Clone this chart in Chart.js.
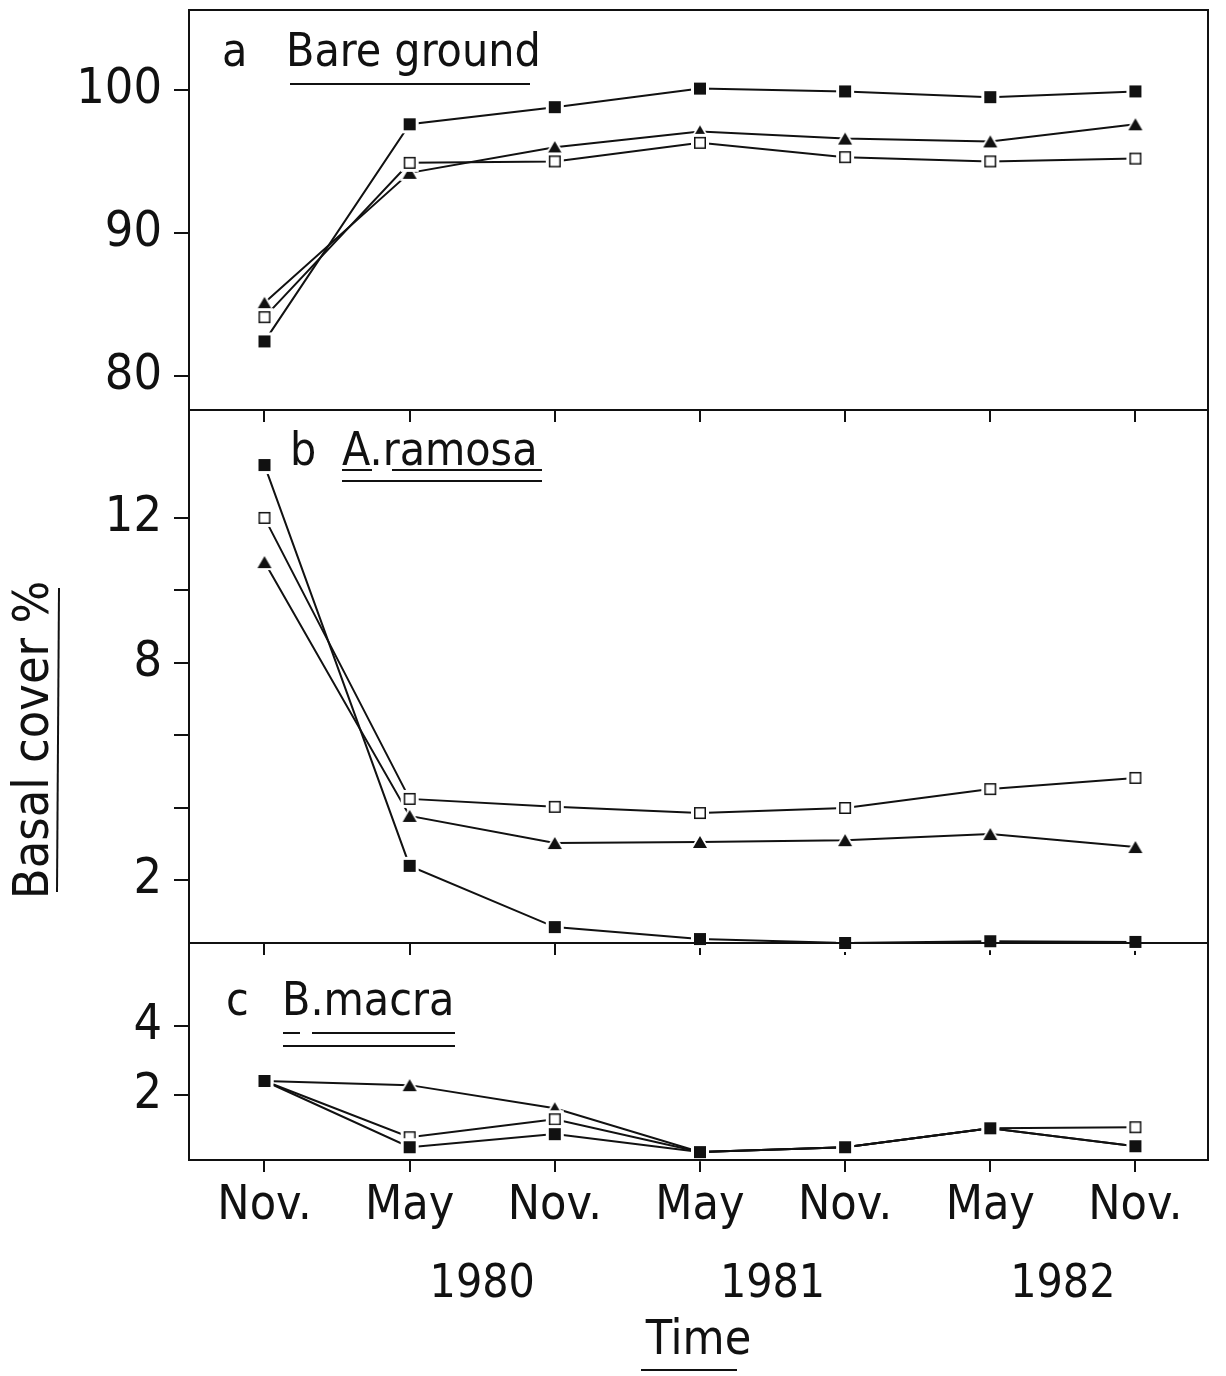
<!DOCTYPE html>
<html>
<head>
<meta charset="utf-8">
<script src="https://cdn.jsdelivr.net/npm/chart.js@4.4.1/dist/chart.umd.min.js"></script>
<style>
  body { margin: 0; background: #fff; width: 1226px; height: 1376px; position: relative; overflow: hidden; }
  .panel { position: absolute; left: 0; width: 1226px; }
</style>
</head>
<body>
<div class="panel" style="top:0;height:430px"><canvas id="chartA"></canvas></div>
<div class="panel" style="top:400px;height:563px"><canvas id="chartB"></canvas></div>
<div class="panel" style="top:933px;height:443px"><canvas id="chartC"></canvas></div>
<script>
// sampling dates (x axis)
const periods = ['Nov.', 'May', 'Nov.', 'May', 'Nov.', 'May', 'Nov.']
const years = ['1980', '1981', '1982']
const yearPositions = [1.5, 3.5, 5.5]

// a  Bare ground
const bareFilled = [82.4, 97.6, 98.8, 100.1, 99.9, 99.5, 99.9]
const bareOpen = [84.1, 94.9, 95.0, 96.3, 95.3, 95.0, 95.2]
const bareTriangle = [85.1, 94.2, 96.0, 97.1, 96.6, 96.4, 97.6]
const bareTicks = [80, 90, 100]

// b  A. ramosa
const ramosaFilled = [13.46, 2.39, 0.70, 0.37, 0.26, 0.31, 0.29]
const ramosaOpen = [12.0, 4.24, 4.02, 3.85, 3.99, 4.51, 4.82]
const ramosaTriangle = [10.78, 3.77, 3.02, 3.05, 3.1, 3.27, 2.91]
const ramosaTicks = [2, 4, 6, 8, 10, 12]
const ramosaLabelled = [2, 8, 12]

// c  B. macra
const macraFilled = [2.41, 0.49, 0.87, 0.35, 0.49, 1.04, 0.52]
const macraOpen = [2.41, 0.78, 1.30, 0.35, 0.49, 1.04, 1.07]
const macraTriangle = [2.41, 2.29, 1.62, 0.35, 0.49, 1.04, 0.52]
const macraTicks = [2, 4]

const FONT = '"Liberation Sans Narrow", "DejaVu Sans Condensed", "DejaVu Sans", sans-serif'
const INK = '#111'
const X_MIN = -0.52
const X_MAX = 6.5
const AXIS_W = 189

// marker images with a white halo so the lines stop short of the symbols
function markerImage(kind) {
   const s = 22
   const c = document.createElement('canvas')
   c.width = s
   c.height = s
   const g = c.getContext('2d')
   g.fillStyle = '#fff'
   if (kind === 'triangle') {
      g.beginPath()
      g.moveTo(11, 1)
      g.lineTo(21, 19)
      g.lineTo(1, 19)
      g.closePath()
      g.fill()
      g.fillStyle = INK
      g.beginPath()
      g.moveTo(11, 5)
      g.lineTo(18, 17)
      g.lineTo(4, 17)
      g.closePath()
      g.fill()
   } else {
      g.fillRect(2, 2, 18, 18)
      if (kind === 'filled') {
         g.fillStyle = INK
         g.fillRect(5, 5, 12, 12)
      } else {
         g.strokeStyle = INK
         g.lineWidth = 1.5
         g.strokeRect(5.75, 5.75, 10.5, 10.5)
      }
   }
   return c
}
const markers = {
   filled: markerImage('filled'),
   open: markerImage('open'),
   triangle: markerImage('triangle')
}

function series(values, kind) {
   return {
      data: values.map((v, i) => ({ x: i, y: v })),
      borderColor: INK,
      borderWidth: 2,
      pointStyle: markers[kind],
      pointRadius: 8,
      tension: 0,
      clip: false
   }
}

const frame = {
   id: 'frame',
   afterDatasetsDraw(chart) {
      const { ctx, chartArea: a } = chart
      ctx.save()
      ctx.strokeStyle = INK
      ctx.lineWidth = 2
      ctx.strokeRect(a.left, a.top, a.right - a.left, a.bottom - a.top)
      ctx.restore()
   }
}

// panel names, axis title and underlines (page coordinates, shifted by canvas offset)
const annot = {
   id: 'annot',
   afterDraw(chart, args, o) {
      const ctx = chart.ctx
      const off = o.offset || 0
      ctx.save()
      ctx.fillStyle = INK
      ctx.strokeStyle = INK
      ctx.lineWidth = 2
      ;(o.texts || []).forEach(t => {
         ctx.save()
         ctx.font = t.size + 'px ' + FONT
         ctx.translate(t.x, t.y - off)
         if (t.rot) ctx.rotate(-Math.PI / 2)
         ctx.textAlign = t.rot ? 'center' : 'left'
         ctx.textBaseline = t.rot ? 'middle' : 'alphabetic'
         ctx.fillText(t.text, 0, 0)
         ctx.restore()
      })
      ;(o.rules || []).forEach(r => {
         ctx.beginPath()
         ctx.moveTo(r[0], r[1] - off)
         ctx.lineTo(r[2], r[3] - off)
         ctx.stroke()
      })
      ctx.restore()
   }
}

function noPad(s) {
   s.paddingTop = 0
   s.paddingBottom = 0
   s.paddingLeft = 0
   s.paddingRight = 0
}

function panel(id, cfg) {
   const scales = {
      x: {
         type: 'linear',
         min: X_MIN,
         max: X_MAX,
         afterBuildTicks: s => { s.ticks = periods.map((p, i) => ({ value: i })) },
         afterFit: s => { s.height = cfg.xHeight; noPad(s) },
         ticks: {
            display: cfg.months,
            color: INK,
            padding: 6,
            font: { family: FONT, size: 48 },
            callback: v => periods[v]
         },
         grid: { drawOnChartArea: false, tickLength: 12, color: INK, lineWidth: 2 },
         border: { color: INK, width: 2 }
      },
      y: {
         min: cfg.min,
         max: cfg.max,
         afterBuildTicks: s => { s.ticks = cfg.ticks.map(v => ({ value: v })) },
         afterFit: s => { s.width = AXIS_W; noPad(s) },
         ticks: {
            color: INK,
            padding: 12,
            font: { family: FONT, size: 50 },
            callback: v => (cfg.labelled.includes(v) ? String(v) : '')
         },
         grid: { drawOnChartArea: false, tickLength: 15, color: INK, lineWidth: 2 },
         border: { color: INK, width: 2 }
      }
   }
   if (cfg.months) {
      scales.years = {
         type: 'linear',
         position: 'bottom',
         weight: 1,
         min: X_MIN,
         max: X_MAX,
         afterBuildTicks: s => { s.ticks = yearPositions.map(v => ({ value: v })) },
         afterFit: s => { s.height = 141; noPad(s) },
         ticks: {
            color: INK,
            padding: 22,
            font: { family: FONT, size: 46 },
            callback: (v, i) => years[i]
         },
         grid: { display: false, drawTicks: false },
         border: { display: false },
         title: {
            display: true,
            text: 'Time',
            color: INK,
            font: { family: FONT, size: 48 },
            padding: { top: 0, bottom: 6 }
         }
      }
   }
   return new Chart(document.getElementById(id), {
      type: 'line',
      data: {
         datasets: [
            series(cfg.data[0], 'filled'),
            series(cfg.data[1], 'open'),
            series(cfg.data[2], 'triangle')
         ]
      },
      options: {
         responsive: true,
         maintainAspectRatio: false,
         animation: false,
         events: [],
         layout: { padding: { top: cfg.padTop, right: 18, left: 0, bottom: 0 } },
         plugins: {
            legend: { display: false },
            tooltip: { enabled: false },
            annot: cfg.annot
         },
         scales
      },
      plugins: [frame, annot]
   })
}

panel('chartA', {
   data: [bareFilled, bareOpen, bareTriangle],
   min: 77.6, max: 105.6,
   ticks: bareTicks, labelled: bareTicks,
   padTop: 8, xHeight: 20, months: false,
   annot: {
      offset: 0,
      texts: [
         { text: 'a', x: 222, y: 66, size: 46 },
         { text: 'Bare ground', x: 286, y: 66, size: 46 }
      ],
      rules: [[290, 84, 530, 84]]
   }
})

panel('chartB', {
   data: [ramosaFilled, ramosaOpen, ramosaTriangle],
   min: 0.26, max: 14.98,
   ticks: ramosaTicks, labelled: ramosaLabelled,
   padTop: 10, xHeight: 20, months: false,
   annot: {
      offset: 400,
      texts: [
         { text: 'b', x: 290, y: 465, size: 46 },
         { text: 'A.ramosa', x: 342, y: 465, size: 46 },
         { text: 'Basal cover %', x: 35, y: 740, size: 50, rot: true }
      ],
      rules: [
         [342, 470, 372, 470],
         [392, 470, 542, 470],
         [342, 481, 542, 481],
         [57, 892, 59, 588]
      ]
   }
})

panel('chartC', {
   data: [macraFilled, macraOpen, macraTriangle],
   min: 0.12, max: 6.41,
   ticks: macraTicks, labelled: macraTicks,
   padTop: 10, xHeight: 75, months: true,
   annot: {
      offset: 933,
      texts: [
         { text: 'c', x: 226, y: 1015, size: 46 },
         { text: 'B.macra', x: 282, y: 1015, size: 46 }
      ],
      rules: [
         [283, 1033, 300, 1033],
         [312, 1033, 455, 1033],
         [283, 1046, 455, 1046],
         [641, 1370, 737, 1370]
      ]
   }
})
</script>
</body>
</html>
